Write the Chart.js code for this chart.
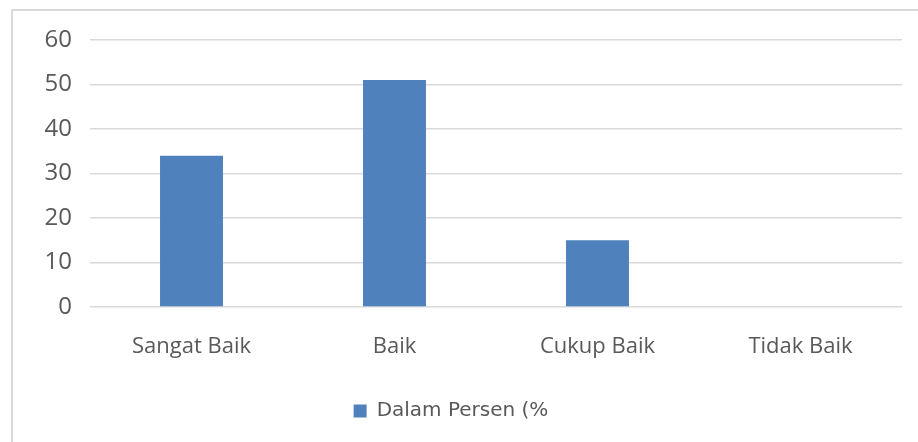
<!DOCTYPE html>
<html>
<head>
<meta charset="utf-8">
<script src="https://cdn.jsdelivr.net/npm/chart.js@4.4.0/dist/chart.umd.min.js"></script>
<style>
  html, body { margin: 0; padding: 0; background: #fff; overflow: hidden; }
  #frame {
    position: absolute; left: 11px; top: 9px; width: 930px; height: 460px;
    border: 2px solid #d9d9d9; box-sizing: border-box;
  }
  #wrap { position: absolute; left: 0; top: 0; width: 918px; height: 442px; }
</style>
</head>
<body>
<div id="frame"></div>
<div id="wrap"><canvas id="chart"></canvas></div>
<script>
// Chart data
const categories = ['Sangat Baik', 'Baik', 'Cukup Baik', 'Tidak Baik'];
const seriesName = 'Dalam Persen (%';
const seriesValues = [34, 51, 15, 0];
const yTicks = [0, 10, 20, 30, 40, 50, 60];

const textColor = '#595959';
const fontFamily = '"Open Sans", Lato, sans-serif';

new Chart(document.getElementById('chart'), {
  type: 'bar',
  data: {
    labels: categories,
    datasets: [{
      label: seriesName,
      data: seriesValues,
      backgroundColor: '#4f81bd',
      borderWidth: 0,
      categoryPercentage: 1,
      barPercentage: 0.31
    }]
  },
  options: {
    responsive: true,
    maintainAspectRatio: false,
    animation: false,
    layout: { padding: { top: 40, right: 16, left: 0, bottom: 11 } },
    plugins: {
      tooltip: { enabled: false },
      legend: {
        position: 'bottom',
        labels: {
          color: textColor,
          font: { family: '"DejaVu Sans", sans-serif', size: 20 },
          boxWidth: 13,
          boxHeight: 13,
          padding: 10
        }
      }
    },
    scales: {
      y: {
        min: yTicks[0],
        max: yTicks[yTicks.length - 1],
        afterBuildTicks: scale => { scale.ticks = yTicks.map(v => ({ value: v })); },
        afterFit: scale => { scale.width = 90; },
        border: { display: false },
        grid: { color: '#d9d9d9', lineWidth: 1.5, drawTicks: false },
        ticks: {
          color: textColor,
          padding: 18,
          font: { family: fontFamily, size: 24 }
        }
      },
      x: {
        afterFit: scale => { scale.height = 84; },
        border: { display: false },
        grid: { display: false },
        ticks: {
          color: textColor,
          padding: 19,
          maxRotation: 0,
          font: { family: fontFamily, size: 22 }
        }
      }
    }
  }
});
</script>
</body>
</html>
